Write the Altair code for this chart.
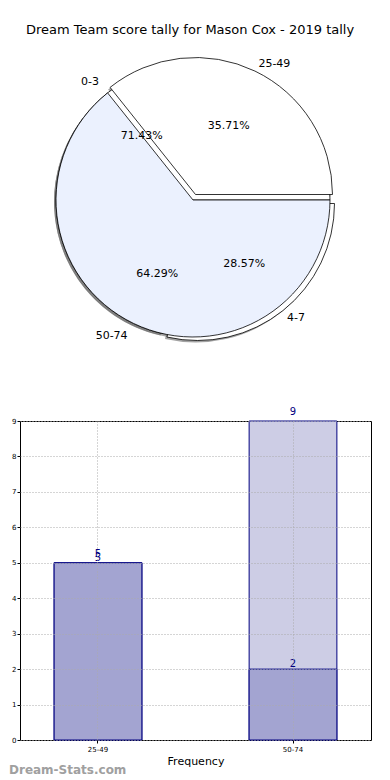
import math
import altair as alt
import pandas as pd

# ---------------- data ----------------
title_text = "Dream Team score tally for Mason Cox - 2019 tally"

outer_labels = ["25-49", "50-74"]
outer_values = [5, 9]
inner_labels = ["0-3", "4-7"]
inner_values = [10, 4]

bar_categories = ["25-49", "50-74"]
bar_back_values = [5, 9]
bar_front_values = [5, 2]
bar_axis_title = "Frequency"
watermark = "Dream-Stats.com"

# ---------------- style ----------------
FONT = "DejaVu Sans"
PIE_W, PIE_H = 351, 310
CX, CY = 173, 155
R = 137
BAR_W, BAR_H = 351, 319
NAVY = "#000080"

explode = {"25-49": (2.5, -5.5), "4-7": (4.5, 3.5)}
fills = {"25-49": "#ffffff", "50-74": "#ebf1fe", "0-3": "#ffffff", "4-7": "#ffffff"}

pie_df = pd.DataFrame({
    "pie": ["B"] * len(inner_labels) + ["A"] * len(outer_labels),
    "label": inner_labels + outer_labels,
    "value": inner_values + outer_values,
    "order": list(range(len(inner_labels))) + list(range(len(outer_labels))),
})

theta_scale = alt.Scale(
    domain=[0, sum(outer_values)],
    range=[math.pi / 2, math.pi / 2 - 2 * math.pi],
)

base = (
    alt.Chart(pie_df)
    .transform_window(cum="sum(value)", groupby=["pie"], sort=[alt.SortField("order")])
    .transform_joinaggregate(total="sum(value)", groupby=["pie"])
    .transform_calculate(
        start="datum.cum - datum.value",
        mid="datum.cum - datum.value / 2",
        pct="format(100 * datum.value / datum.total, '.2f') + '%'",
        right="cos(2 * PI * (datum.cum - datum.value / 2) / datum.total) >= 0",
    )
)


def wedge(pie, label, shadow=False):
    dx, dy = explode.get(label, (0, 0))
    flt = base.transform_filter(f"datum.pie == '{pie}' && datum.label == '{label}'")
    if shadow:
        m = flt.mark_arc(radius=R, fill="#666666", opacity=0.6)
        dx, dy = dx - 2, dy + 2
    else:
        m = flt.mark_arc(radius=R, fill=fills[label], stroke="black", strokeWidth=0.8)
    return m.encode(
        theta=alt.Theta("start:Q", scale=theta_scale),
        theta2="cum:Q",
        x=alt.value(CX + dx),
        y=alt.value(CY + dy),
    )


layers = []
for pie, labs in (("B", inner_labels), ("A", outer_labels)):
    for lab in labs:
        layers.append(wedge(pie, lab, shadow=True))
for pie, labs in (("B", inner_labels), ("A", outer_labels)):
    for lab in labs:
        layers.append(wedge(pie, lab))

pct_text = base.mark_text(radius=0.6 * R, fontSize=11, font=FONT, color="black").encode(
    theta=alt.Theta("mid:Q", scale=theta_scale),
    text="pct:N",
    x=alt.value(CX),
    y=alt.value(CY),
)
lab_right = base.transform_filter("datum.right").mark_text(
    radius=1.1 * R, fontSize=11, font=FONT, color="black", align="left"
).encode(theta=alt.Theta("mid:Q", scale=theta_scale), text="label:N", x=alt.value(CX), y=alt.value(CY))
lab_left = base.transform_filter("!datum.right").mark_text(
    radius=1.1 * R, fontSize=11, font=FONT, color="black", align="right"
).encode(theta=alt.Theta("mid:Q", scale=theta_scale), text="label:N", x=alt.value(CX), y=alt.value(CY))

pie_chart = alt.layer(*layers, pct_text, lab_right, lab_left).properties(
    width=PIE_W, height=PIE_H, view=alt.ViewBackground(stroke=None)
)

# ---------------- bar chart ----------------
bar_df = pd.DataFrame({
    "cat": bar_categories * 2,
    "value": bar_back_values + bar_front_values,
    "series": ["back"] * len(bar_categories) + ["front"] * len(bar_categories),
})

xenc = alt.X(
    "cat:N",
    sort=bar_categories,
    scale=alt.Scale(paddingInner=0.55, paddingOuter=0.175),
    axis=alt.Axis(
        title=bar_axis_title, titleFont=FONT, titleFontSize=11, titleFontWeight="normal",
        titlePadding=3, labelAngle=0, labelFont=FONT, labelFontSize=7, labelColor="black",
        labelPadding=2, tickSize=3, tickColor="black", domain=False, grid=True,
        gridDash=[1, 2], gridColor="#aaaaaa", bandPosition=0.5, zindex=1,
    ),
)
yenc = alt.Y(
    "value:Q",
    scale=alt.Scale(nice=False, zero=True),
    axis=alt.Axis(
        title=None, tickCount=9, labelFont=FONT, labelFontSize=7, labelColor="black",
        labelPadding=1, tickSize=3, tickColor="black", domain=False, grid=True,
        gridDash=[1, 2], gridColor="#aaaaaa", zindex=1,
    ),
)

bbase = alt.Chart(bar_df)
back_bar = bbase.transform_filter("datum.series == 'back'").mark_bar(
    fill="#cdcde5", stroke=NAVY, strokeWidth=1
).encode(x=xenc, y=yenc)
front_bar = bbase.transform_filter("datum.series == 'front'").mark_bar(
    fill="#a3a4d1", stroke=NAVY, strokeWidth=1
).encode(x=xenc, y=yenc)
back_txt = bbase.transform_filter("datum.series == 'back'").mark_text(
    dy=-9, fontSize=10, font=FONT, color=NAVY
).encode(x=xenc, y=yenc, text="value:Q")
front_txt = bbase.transform_filter("datum.series == 'front'").mark_text(
    dy=-5, fontSize=10, font=FONT, color=NAVY
).encode(x=xenc, y=yenc, text="value:Q")
wm = alt.Chart(pd.DataFrame({"t": [watermark]})).mark_text(
    align="left", baseline="middle", fontSize=12, fontWeight="bold", font=FONT, color="#a0a0a0"
).encode(x=alt.value(-11), y=alt.value(BAR_H + 30), text="t:N")

bar_chart = alt.layer(back_bar, front_bar, back_txt, front_txt, wm).properties(
    width=BAR_W, height=BAR_H, view=alt.ViewBackground(stroke="black", strokeWidth=1)
)

chart = alt.vconcat(
    pie_chart, bar_chart, spacing=51,
    title=alt.Title(title_text, font=FONT, fontSize=13, fontWeight="normal",
                    anchor="middle", offset=8, color="black"),
).properties(
    padding={"top": 16, "left": 0, "right": 0, "bottom": 0}
).configure(font=FONT)

chart.save("out.html", embed_options={"renderer": "svg", "actions": False})
